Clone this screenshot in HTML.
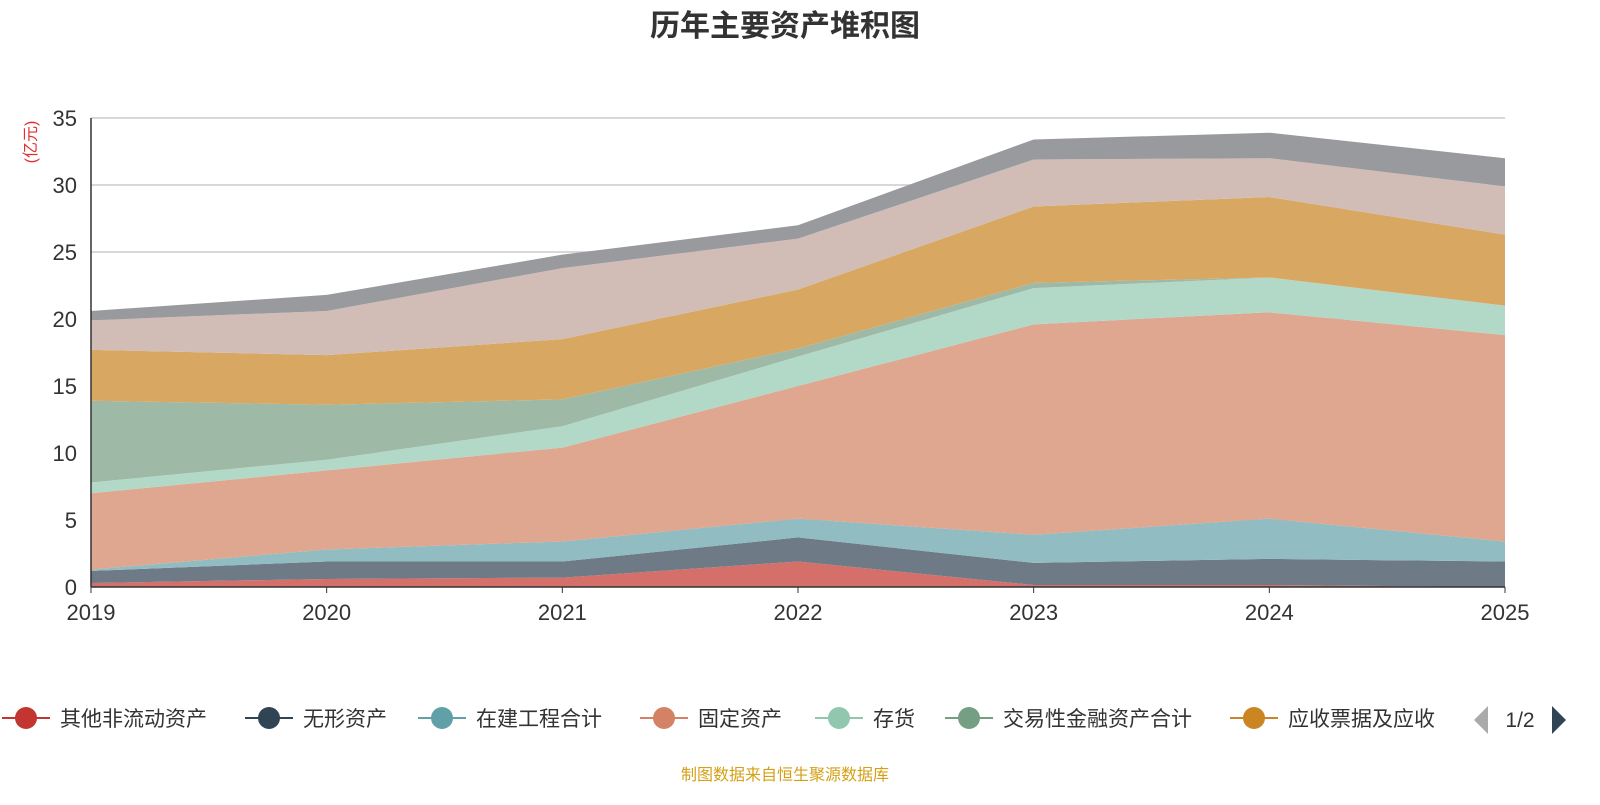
<!DOCTYPE html>
<html><head><meta charset="utf-8"><style>
body{margin:0;background:#fff;width:1600px;height:800px;overflow:hidden;font-family:"Liberation Sans","Noto Sans CJK SC",sans-serif}
</style></head><body>
<svg id="c" width="1600" height="800" xmlns="http://www.w3.org/2000/svg">
<text x="785" y="36" text-anchor="middle" font-size="30" font-weight="bold" fill="#333" font-family="Liberation Sans,Noto Sans CJK SC,sans-serif">历年主要资产堆积图</text>
<text transform="translate(36,142) rotate(-90)" text-anchor="middle" font-size="16" fill="#e03030" font-family="Liberation Sans,Noto Sans CJK SC,sans-serif">(亿元)</text>
<g id="grid"></g><g id="areas"></g><g id="axes"></g><g id="legend"></g>
<text x="785" y="780" text-anchor="middle" font-size="16" fill="#d4a017" font-family="Liberation Sans,Noto Sans CJK SC,sans-serif">制图数据来自恒生聚源数据库</text>
</svg>
<script>
const years=["2019","2020","2021","2022","2023","2024","2025"];
const yTicks=[0,5,10,15,20,25,30,35];
const seriesNames=["其他非流动资产","无形资产","在建工程合计","固定资产","存货","交易性金融资产合计","应收票据及应收","应收账款","货币资金"];
const sRed=[0.3,0.6,0.7,1.9,0.15,0.15,0];
const sDark=[0.9,1.3,1.2,1.8,1.65,1.95,1.9];
const sTeal=[0.1,0.9,1.5,1.4,2.1,3.0,1.5];
const sSalmon=[5.7,5.9,7.0,9.9,15.7,15.4,15.4];
const sLg=[0.8,0.8,1.6,2.2,2.7,2.6,2.2];
const sGreen=[6.1,4.1,2.0,0.6,0.4,0,0];
const sOrange=[3.8,3.7,4.5,4.4,5.7,6.0,5.3];
const sPink=[2.2,3.3,5.3,3.8,3.5,2.9,3.6];
const sGray=[0.7,1.2,1.0,1.0,1.5,1.9,2.1];
const series=[sRed,sDark,sTeal,sSalmon,sLg,sGreen,sOrange,sPink,sGray];
const fills=["#d46f6a","#6e7b86","#91bcc1","#dfa690","#b2d9c8","#9eb9a5","#d8a862","#d1bdb6","#999a9e"];
const lcol=["#c23531","#2f4554","#61a0a8","#d48265","#91c7ae","#749f83","#ca8622"];
const NS="http://www.w3.org/2000/svg";
const X0=91,X1=1505,Y0=587,Y1=118,YMAX=35;
const xs=i=>X0+(X1-X0)*i/(years.length-1);
const ys=v=>Y0-(Y0-Y1)*v/YMAX;
function mk(t,a,p){const e=document.createElementNS(NS,t);for(const k in a)e.setAttribute(k,a[k]);p.appendChild(e);return e;}
const grid=document.getElementById('grid'),axes=document.getElementById('axes'),areas=document.getElementById('areas'),leg=document.getElementById('legend');
yTicks.forEach(t=>{
 if(t>0){const g=mk('line',{x1:X0,x2:X1,y1:ys(t),y2:ys(t),stroke:'#ccc','stroke-width':1.5},grid);
 
 }
 const tx=mk('text',{x:X0-14,y:ys(t)+8,'text-anchor':'end','font-size':22,fill:'#333'},axes);tx.textContent=t;
 
 
});
let base=years.map(()=>0);
series.forEach((s,k)=>{
 const top=s.map((v,i)=>base[i]+v);
 let d='M'+years.map((_,i)=>xs(i)+','+ys(top[i])).join('L');
 for(let i=years.length-1;i>=0;i--)d+='L'+xs(i)+','+ys(base[i]);
 const p=mk('path',{d:d+'Z',fill:fills[k]},areas);
 
 
 base=top;
});
mk('line',{x1:X0,x2:X0,y1:Y1,y2:Y0,stroke:'#333','stroke-width':1.5},axes);
mk('line',{x1:X0,x2:X1,y1:Y0,y2:Y0,stroke:'#333','stroke-width':1.5},axes);
years.forEach((y,i)=>{
 mk('line',{x1:xs(i),x2:xs(i),y1:Y0,y2:Y0+6,stroke:'#333'},axes);
 const t=mk('text',{x:xs(i),y:620,'text-anchor':'middle','font-size':22,fill:'#333'},axes);t.textContent=y;
 
 
});
const lx=[2,245,418,640,815,945,1230];
seriesNames.slice(0,7).forEach((n,k)=>{
 const g=mk('g',{},leg);
 
 
 mk('line',{x1:lx[k],x2:lx[k]+48,y1:718,y2:718,stroke:lcol[k],'stroke-width':2},g);
 mk('circle',{cx:lx[k]+24,cy:718,r:11,fill:lcol[k]},g);
 const t=mk('text',{x:lx[k]+58,y:726,'font-size':21,fill:'#333'},g);t.textContent=n;
});
const pg=mk('g',{},leg);


mk('path',{d:'M1488,706L1474,720L1488,734Z',fill:'#aaa'},pg);
const pt=mk('text',{x:1520,y:727,'text-anchor':'middle','font-size':21,fill:'#333'},pg);pt.textContent='1/2';
mk('path',{d:'M1552,706L1566,720L1552,734Z',fill:'#2f4554'},pg);
</script>
</body></html>
